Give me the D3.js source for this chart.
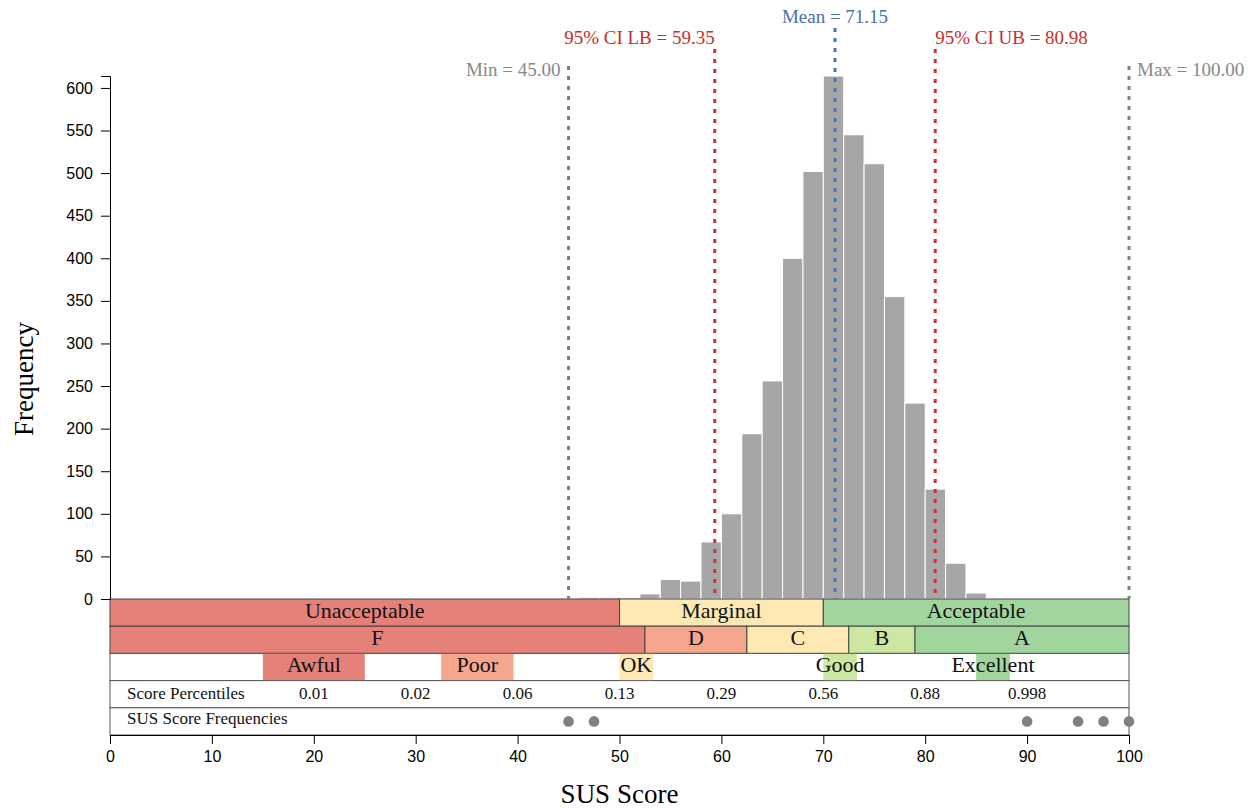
<!DOCTYPE html>
<html>
<head>
<meta charset="utf-8">
<script src="https://cdn.jsdelivr.net/npm/d3@7"></script>
<style>
  html, body { margin: 0; padding: 0; background: #fff; }
  svg { display: block; }
</style>
</head>
<body>
<svg id="chart" width="1255" height="808"></svg>
<script>
// ---- data ----
const binStarts = [46, 48, 50, 52, 54, 56, 58, 60, 62, 64, 66, 68, 70, 72, 74, 76, 78, 80, 82, 84, 86];
const binCounts = [2, 2, 2, 6, 23, 21, 67, 100, 194, 256, 400, 502, 614, 545, 511, 355, 230, 129, 42, 7, 1];
const binWidth = 2;

const statNames = ["Min", "95% CI LB", "Mean", "95% CI UB", "Max"];
const statValues = [45.00, 59.35, 71.15, 80.98, 100.00];

const acceptNames = ["Unacceptable", "Marginal", "Acceptable"];
const acceptStart = [0, 50, 70];
const acceptEnd = [50, 70, 100];

const gradeNames = ["F", "D", "C", "B", "A"];
const gradeStart = [0, 52.5, 62.5, 72.5, 79];
const gradeEnd = [52.5, 62.5, 72.5, 79, 100];

const adjNames = ["Awful", "Poor", "OK", "Good", "Excellent"];
const adjStart = [15, 32.5, 50, 70, 85];
const adjEnd = [25, 39.6, 53.3, 73.3, 88.3];

const pctScores = [20, 30, 40, 50, 60, 70, 80, 90];
const pctLabels = ["0.01", "0.02", "0.06", "0.13", "0.29", "0.56", "0.88", "0.998"];

const freqDots = [45, 47.5, 90, 95, 97.5, 100];

const yTicks = [0, 50, 100, 150, 200, 250, 300, 350, 400, 450, 500, 550, 600];
const xTicks = [0, 10, 20, 30, 40, 50, 60, 70, 80, 90, 100];

// ---- styles ----
const C = {
  red: "#e6817a", salmon: "#f5a68c", yellow: "#fee9b5", lgreen: "#cbe7a2", green: "#a1d59e",
  bar: "#a6a6a6", gray: "#808080", ci: "#cc3333", mean: "#4a74b4"
};
const acceptColors = [C.red, C.yellow, C.green];
const gradeColors = [C.red, C.salmon, C.yellow, C.lgreen, C.green];
const adjColors = [C.red, C.salmon, C.yellow, C.lgreen, C.green];
const serif = "'Liberation Serif', 'Times New Roman', serif";
const sans = "'Liberation Sans', Arial, Helvetica, sans-serif";

const svg = d3.select("#chart");
const x = d3.scaleLinear().domain([0, 100]).range([110, 1129]);
const y = d3.scaleLinear().domain([0, d3.max(binCounts)]).range([599, 76]);

// ---- histogram bars ----
svg.append("g").selectAll("rect").data(binStarts).join("rect")
  .attr("x", d => x(d))
  .attr("width", d => x(d + binWidth) - x(d))
  .attr("y", (d, i) => y(binCounts[i]))
  .attr("height", (d, i) => y(0) - y(binCounts[i]))
  .attr("fill", C.bar)
  .attr("stroke", "#fff")
  .attr("stroke-width", 1);

// ---- bands ----
const rowTop = y(0);
const rowH = 27.2;
function rowY(i) { return rowTop + i * rowH; }

function colorRow(i, names, starts, ends, colors) {
  const g = svg.append("g");
  g.selectAll("rect").data(names).join("rect")
    .attr("x", (d, k) => x(starts[k]))
    .attr("width", (d, k) => x(ends[k]) - x(starts[k]))
    .attr("y", rowY(i)).attr("height", rowH)
    .attr("fill", (d, k) => colors[k])
    .attr("stroke", "#444").attr("stroke-width", 1);
  g.selectAll("text").data(names).join("text")
    .attr("x", (d, k) => (x(starts[k]) + x(ends[k])) / 2)
    .attr("y", rowY(i) + rowH / 2 + 5)
    .attr("text-anchor", "middle")
    .attr("font-family", serif).attr("font-size", 22)
    .attr("fill", "#111")
    .text(d => d);
}
colorRow(0, acceptNames, acceptStart, acceptEnd, acceptColors);
colorRow(1, gradeNames, gradeStart, gradeEnd, gradeColors);

// white rows
for (let i = 2; i < 5; i++) {
  svg.append("rect").attr("x", x(0)).attr("width", x(100) - x(0))
    .attr("y", rowY(i)).attr("height", rowH)
    .attr("fill", "#fff").attr("stroke", "#555").attr("stroke-width", 1);
}
// adjectives
const adjG = svg.append("g");
adjG.selectAll("rect").data(adjNames).join("rect")
  .attr("x", (d, k) => x(adjStart[k]))
  .attr("width", (d, k) => x(adjEnd[k]) - x(adjStart[k]))
  .attr("y", rowY(2) + 0.5).attr("height", rowH - 1)
  .attr("fill", (d, k) => adjColors[k]);
adjG.selectAll("text").data(adjNames).join("text")
  .attr("x", (d, k) => (x(adjStart[k]) + x(adjEnd[k])) / 2)
  .attr("y", rowY(2) + rowH / 2 + 5)
  .attr("text-anchor", "middle")
  .attr("font-family", serif).attr("font-size", 22)
  .attr("fill", "#111")
  .text(d => d);

// percentiles row
svg.append("text").attr("x", 127).attr("y", rowY(3) + rowH / 2 + 4.5)
  .attr("font-family", serif).attr("font-size", 17).attr("fill", "#111")
  .text("Score Percentiles");
svg.append("g").selectAll("text").data(pctScores).join("text")
  .attr("x", d => x(d))
  .attr("y", rowY(3) + rowH / 2 + 4.5)
  .attr("text-anchor", "middle")
  .attr("font-family", serif).attr("font-size", 17).attr("fill", "#111")
  .text((d, k) => pctLabels[k]);

// frequencies row
svg.append("text").attr("x", 127).attr("y", rowY(4) + rowH / 2 + 2.5)
  .attr("font-family", serif).attr("font-size", 17).attr("fill", "#111")
  .text("SUS Score Frequencies");
svg.append("g").selectAll("circle").data(freqDots).join("circle")
  .attr("cx", d => x(d))
  .attr("cy", rowY(4) + rowH / 2)
  .attr("r", 5.3)
  .attr("fill", C.gray);

// ---- reference lines ----
const lineColors = [C.gray, C.ci, C.mean, C.ci, C.gray];
const textColors = ["#888888", "#c4302b", "#4a70ad", "#c4302b", "#888888"];
const lineTops = [66, 49, 28, 49, 66];
const labelY = [76, 44, 23, 44, 76];
const anchors = ["end", "end", "middle", "start", "start"];
const offsets = [-8, 0, 0, 0, 8];

const refG = svg.append("g");
refG.selectAll("line").data(statValues).join("line")
  .attr("x1", d => x(d)).attr("x2", d => x(d))
  .attr("y1", (d, i) => lineTops[i]).attr("y2", y(0))
  .attr("stroke", (d, i) => lineColors[i])
  .attr("stroke-width", 3)
  .attr("stroke-dasharray", "4,6");
refG.selectAll("text").data(statValues).join("text")
  .attr("x", (d, i) => x(d) + offsets[i])
  .attr("y", (d, i) => labelY[i])
  .attr("text-anchor", (d, i) => anchors[i])
  .attr("font-family", serif).attr("font-size", 19)
  .attr("fill", (d, i) => textColors[i])
  .text((d, i) => statNames[i] + " = " + d.toFixed(2));

// ---- axes ----
const yAxis = svg.append("g").attr("transform", `translate(${x(0)},0)`)
  .call(d3.axisLeft(y).tickValues(yTicks).tickSize(9).tickPadding(8));
yAxis.selectAll("text").attr("font-family", sans).attr("font-size", 16).attr("fill", "#000");

const xAxis = svg.append("g").attr("transform", `translate(0,${rowY(5)})`)
  .call(d3.axisBottom(x).tickValues(xTicks).tickSize(9).tickPadding(7));
xAxis.selectAll("text").attr("font-family", sans).attr("font-size", 16).attr("fill", "#000");

// axis titles
svg.append("text")
  .attr("x", (x(0) + x(100)) / 2).attr("y", 803)
  .attr("text-anchor", "middle")
  .attr("font-family", serif).attr("font-size", 27).attr("fill", "#000")
  .text("SUS Score");
svg.append("text")
  .attr("transform", "translate(33,379) rotate(-90)")
  .attr("text-anchor", "middle")
  .attr("font-family", serif).attr("font-size", 27).attr("fill", "#000")
  .text("Frequency");
</script>
</body>
</html>
